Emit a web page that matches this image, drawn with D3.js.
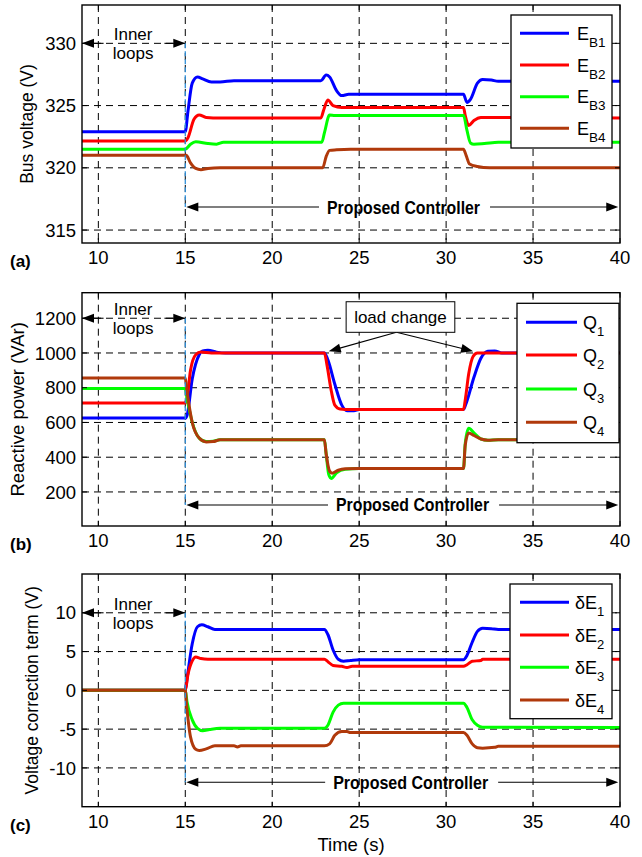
<!DOCTYPE html>
<html><head><meta charset="utf-8">
<script src="https://cdn.jsdelivr.net/npm/d3@7"></script>
<style>body{margin:0;background:#fff}svg{display:block}text{font-family:"Liberation Sans",Arial,Helvetica,sans-serif;fill:#000}</style>
</head><body><svg id="chart" width="642" height="857"></svg>
<script>
// ---------- DATA ----------
const timeTicks = [10, 15, 20, 25, 30, 35, 40];
const busTicks = [315, 320, 325, 330];
const qTicks = [200, 400, 600, 800, 1000, 1200];
const dETicks = [-10, -5, 0, 5, 10];
const seriesColors = ["#0000ff", "#ff0000", "#00ff00", "#b0390b"];
const busNames = ["B1", "B2", "B3", "B4"];
const qNames = ["1", "2", "3", "4"];
const dENames = ["1", "2", "3", "4"];

// Panel (a): bus voltages [time s, V]
const EB1 = [[9.06,322.9],[15.0,322.9],[15.15,324.5],[15.4,326.8],[15.7,327.3],[16.0,327.15],[16.5,326.9],[17.0,326.9],[17.8,327.0],[22.8,327.0],[23.1,327.45],[23.3,327.3],[23.7,326.2],[24.0,325.8],[24.4,325.9],[31.0,325.9],[31.2,325.25],[31.4,325.5],[31.8,326.8],[32.1,327.1],[32.6,327.05],[33.0,326.95],[40,326.95]];
const EB2 = [[9.06,322.15],[15.0,322.15],[15.15,322.4],[15.5,323.9],[15.8,324.25],[16.2,324.05],[17.0,324.0],[22.8,324.0],[22.95,324.6],[23.2,325.45],[23.5,325.0],[24.0,324.85],[31.0,324.85],[31.1,324.2],[31.3,323.4],[31.6,323.8],[32.0,324.05],[40,324.0]];
const EB3 = [[9.06,321.5],[15.0,321.5],[15.3,321.9],[15.6,322.1],[16.3,321.95],[16.8,321.9],[17.2,322.05],[22.85,322.05],[23.0,322.8],[23.3,324.25],[23.6,324.2],[31.0,324.2],[31.2,323.0],[31.4,322.0],[31.6,321.9],[32.2,321.95],[33.0,322.05],[40,322.05]];
const EB4 = [[9.06,321.0],[15.05,321.0],[15.3,320.4],[15.6,319.95],[15.9,319.85],[16.3,319.95],[17.0,320.0],[22.9,320.0],[23.1,320.9],[23.3,321.4],[23.7,321.45],[24.5,321.5],[31.0,321.5],[31.15,321.0],[31.35,320.3],[31.8,320.1],[32.5,320.0],[40,320.0]];

// Panel (b): reactive power [time s, VAr]
const Q1 = [[9.06,625],[15.0,625],[15.1,640],[15.4,850],[15.8,990],[16.0,1012],[16.3,1015],[16.8,1005],[17.3,1000],[23.0,1000],[23.2,960],[23.6,820],[24.0,700],[24.3,668],[24.7,668],[25.0,675],[31.0,675],[31.15,710],[31.6,860],[32.0,970],[32.4,1010],[32.8,1012],[33.2,1000],[40,1000]];
const Q2 = [[9.06,712],[15.0,712],[15.1,740],[15.3,900],[15.6,990],[15.9,1005],[16.5,1000],[23.0,1000],[23.15,930],[23.4,780],[23.6,700],[23.9,678],[24.5,675],[31.0,675],[31.1,730],[31.3,880],[31.55,980],[31.8,1000],[40,1000]];
const Q3 = [[9.06,796],[15.0,796],[15.1,740],[15.4,600],[15.8,510],[16.2,490],[16.6,492],[17.0,500],[23.0,500],[23.1,420],[23.25,300],[23.4,278],[23.7,310],[24.2,330],[25.0,335],[31.0,335],[31.1,480],[31.3,567],[31.6,540],[32.0,505],[32.4,498],[33.0,500],[40,500]];
const Q4 = [[9.06,856],[15.0,856],[15.1,780],[15.4,600],[15.8,510],[16.2,488],[16.6,490],[17.0,500],[23.0,500],[23.1,420],[23.3,320],[23.45,308],[23.8,325],[24.2,333],[25.0,335],[31.0,335],[31.1,470],[31.3,540],[31.6,525],[32.0,505],[32.4,498],[33.0,500],[40,500]];

// Panel (c): voltage correction terms [time s, V]
const dE1 = [[9.06,0],[15.0,0],[15.1,1.5],[15.4,6.0],[15.7,8.2],[15.95,8.45],[16.3,8.2],[16.7,7.85],[23.0,7.85],[23.2,7.2],[23.5,5.2],[23.8,4.0],[24.1,3.75],[24.5,3.85],[25.0,3.95],[31.0,3.95],[31.2,4.5],[31.5,6.2],[31.8,7.6],[32.1,8.0],[32.6,7.95],[33.0,7.85],[40,7.85]];
const dE2 = [[9.06,0],[15.0,0],[15.15,2.0],[15.4,3.8],[15.6,4.3],[15.9,4.1],[16.3,4.0],[23.0,4.0],[23.2,3.7],[23.5,3.2],[24.0,3.1],[24.3,2.95],[24.6,3.1],[31.0,3.1],[31.2,3.3],[31.5,3.75],[32.0,3.85],[32.1,4.0],[40,4.0]];
const dE3 = [[9.06,0],[15.0,0],[15.1,-1.5],[15.4,-3.8],[15.7,-4.9],[16.0,-5.2],[16.4,-5.05],[17.0,-4.9],[23.0,-4.9],[23.2,-4.5],[23.5,-2.8],[23.8,-1.9],[24.1,-1.65],[31.0,-1.65],[31.2,-2.2],[31.5,-3.8],[31.8,-4.5],[32.1,-4.75],[33.0,-4.75],[40,-4.8]];
const dE4 = [[9.06,0],[15.0,0],[15.08,-2.0],[15.3,-6.0],[15.6,-7.6],[15.8,-7.75],[16.2,-7.55],[16.7,-7.15],[17.8,-7.15],[18.0,-7.3],[18.2,-7.15],[23.0,-7.15],[23.3,-6.9],[23.6,-5.8],[24.0,-5.3],[24.3,-5.3],[24.5,-5.45],[31.0,-5.45],[31.2,-5.8],[31.5,-6.9],[31.8,-7.4],[32.1,-7.45],[32.8,-7.35],[33.0,-7.2],[40,-7.2]];

// ---------- LAYOUT ----------
const svg = d3.select("#chart");
const plotLeft = 82, plotRight = 620;
const x = d3.scaleLinear().domain([9.06, 40]).range([plotLeft, plotRight]);

const panels = [
  { top: 5, bottom: 243, domain: [313.96, 333.08], ticks: busTicks, title: "Bus voltage (V)", titleX: 27, titleSize: 17.5,
    label: "(a)", series: [EB1, EB2, EB3, EB4], mainSym: "E", subs: busNames, subSize: 13.5,
    legend: { x: 511, y: 15, w: 101, h: 133, rows: [33.3, 65, 96.7, 128.3], l0: 520, l1: 569, tx: 577 },
    innerY: 330, pcY: 316.85, pcCenter: 27.55, pcW: 153 },
  { top: 292.7, bottom: 526, domain: [4, 1347], ticks: qTicks, title: "Reactive power (VAr)", titleX: 17, titleSize: 18.5,
    label: "(b)", series: [Q1, Q2, Q3, Q4], mainSym: "Q", subs: qNames, subSize: 13,
    legend: { x: 517, y: 303.3, w: 102, h: 139.4, rows: [322.3, 355, 389, 422.3], l0: 526, l1: 577, tx: 583 },
    innerY: 1200, pcY: 125, pcCenter: 28.07, pcW: 153 },
  { top: 574, bottom: 806.7, domain: [-15, 15], ticks: dETicks, title: "Voltage correction term (V)", titleX: 32, titleSize: 17.5,
    label: "(c)", series: [dE1, dE2, dE3, dE4], mainSym: "\u03B4E", subs: dENames, subSize: 13,
    legend: { x: 510, y: 584, w: 102, h: 134.7, rows: [602.3, 635, 667.3, 700], l0: 520, l1: 569, tx: 575 },
    innerY: 10, pcY: -11.85, pcCenter: 27.96, pcW: 155 }
];

function arrowHead(g, tx, ty, dx, dy, len = 12, hw = 4.5) {
  const px = -dy, py = dx;
  const bx = tx - dx * len, by = ty - dy * len;
  g.append("path")
    .attr("d", `M${tx},${ty}L${bx + px * hw},${by + py * hw}L${bx - px * hw},${by - py * hw}Z`)
    .attr("fill", "#000");
}
function arrow(g, x0, y0, x1, y1) {
  const L = Math.hypot(x1 - x0, y1 - y0), dx = (x1 - x0) / L, dy = (y1 - y0) / L;
  g.append("line").attr("x1", x0).attr("y1", y0).attr("x2", x1 - dx * 6).attr("y2", y1 - dy * 6)
    .attr("stroke", "#000").attr("stroke-width", 1.1);
  arrowHead(g, x1, y1, dx, dy);
}

panels.forEach((p, pi) => {
  const y = d3.scaleLinear().domain(p.domain).range([p.bottom, p.top]);
  const g = svg.append("g");
  const w = plotRight - plotLeft, h = p.bottom - p.top;

  // grid
  g.append("g").selectAll("line").data(timeTicks.filter(t => t < 40)).join("line")
    .attr("x1", d => x(d)).attr("x2", d => x(d)).attr("y1", p.top).attr("y2", p.bottom)
    .attr("stroke", "#000").attr("stroke-width", 1).attr("stroke-dasharray", "7,5");
  g.append("g").selectAll("line").data(p.ticks).join("line")
    .attr("x1", plotLeft).attr("x2", plotRight).attr("y1", d => y(d)).attr("y2", d => y(d))
    .attr("stroke", "#000").attr("stroke-width", 1).attr("stroke-dasharray", "7,5");

  // data lines
  const line = d3.line().x(d => x(d[0])).y(d => y(d[1])).curve(d3.curveMonotoneX);
  p.series.forEach((s, i) => {
    g.append("path").datum(s).attr("d", line).attr("fill", "none")
      .attr("stroke", seriesColors[i]).attr("stroke-width", 3).attr("stroke-linejoin", "round");
  });

  // blue dashed marker at t=15
  g.append("line").attr("x1", x(15)).attr("x2", x(15)).attr("y1", y(p.innerY)).attr("y2", y(p.pcY))
    .attr("stroke", "#2f8fd8").attr("stroke-width", 1.3).attr("stroke-dasharray", "5,3");

  // Inner loops annotation
  const iy = y(p.innerY);
  arrow(g, x(10.3), iy, plotLeft, iy);
  arrow(g, x(13.8), iy, x(15), iy);
  g.append("text").attr("x", x(12)).attr("y", iy - 3).attr("text-anchor", "middle").attr("font-size", 17).text("Inner");
  g.append("text").attr("x", x(12)).attr("y", iy + 16).attr("text-anchor", "middle").attr("font-size", 17).text("loops");

  // Proposed Controller annotation
  const py = y(p.pcY), cx = x(p.pcCenter);
  g.append("text").attr("x", cx).attr("y", py + 6.5).attr("text-anchor", "middle")
    .attr("font-size", 19).attr("font-weight", "bold")
    .attr("textLength", p.pcW).attr("lengthAdjust", "spacingAndGlyphs").text("Proposed Controller");
  arrow(g, cx - p.pcW / 2 - 8, py, x(15) + 1, py);
  arrow(g, cx + p.pcW / 2 + 10, py, x(39.9), py);

  // frame + inward ticks
  const tk = g.append("g").attr("stroke", "#000").attr("stroke-width", 1);
  timeTicks.forEach(t => {
    tk.append("line").attr("x1", x(t)).attr("x2", x(t)).attr("y1", p.bottom).attr("y2", p.bottom - 5);
    tk.append("line").attr("x1", x(t)).attr("x2", x(t)).attr("y1", p.top).attr("y2", p.top + 5);
  });
  p.ticks.forEach(v => {
    tk.append("line").attr("x1", plotLeft).attr("x2", plotLeft + 5).attr("y1", y(v)).attr("y2", y(v));
    tk.append("line").attr("x1", plotRight).attr("x2", plotRight - 5).attr("y1", y(v)).attr("y2", y(v));
  });
  g.append("rect").attr("x", plotLeft).attr("y", p.top).attr("width", w).attr("height", h)
    .attr("fill", "none").attr("stroke", "#000").attr("stroke-width", 1.4);

  // tick labels
  g.append("g").selectAll("text").data(timeTicks).join("text")
    .attr("x", d => x(d)).attr("y", p.bottom + 21).attr("text-anchor", "middle").attr("font-size", 18.5).text(d => d);
  g.append("g").selectAll("text").data(p.ticks).join("text")
    .attr("x", plotLeft - 6).attr("y", d => y(d)).attr("dy", "0.36em").attr("text-anchor", "end").attr("font-size", 18.5).text(d => d);

  // y title
  g.append("text").attr("transform", `translate(${p.titleX},${(p.top + p.bottom) / 2}) rotate(-90)`)
    .attr("text-anchor", "middle").attr("dy", "0.36em").attr("font-size", p.titleSize).text(p.title);

  // panel label
  g.append("text").attr("x", 10).attr("y", p.bottom + 24).attr("font-size", 17).attr("font-weight", "bold").text(p.label);

  // legend
  const L = p.legend;
  const lg = g.append("g");
  lg.append("rect").attr("x", L.x).attr("y", L.y).attr("width", L.w).attr("height", L.h)
    .attr("fill", "#fff").attr("stroke", "#000").attr("stroke-width", 1.3);
  p.subs.forEach((s, i) => {
    lg.append("line").attr("x1", L.l0).attr("x2", L.l1).attr("y1", L.rows[i]).attr("y2", L.rows[i])
      .attr("stroke", seriesColors[i]).attr("stroke-width", 3);
    const t = lg.append("text").attr("x", L.tx).attr("y", L.rows[i] + 6.5).attr("font-size", 18);
    t.append("tspan").text(p.mainSym);
    t.append("tspan").attr("dy", 7).attr("font-size", p.subSize).text(s);
  });

  // load change annotation (panel b only)
  if (pi === 1) {
    const bx0 = x(24.25), bx1 = x(30.5), by0 = y(1295), by1 = y(1119);
    arrow(g, (bx0 + bx1) / 2 - 4, by1, x(23.25), y(1010));
    arrow(g, (bx0 + bx1) / 2 - 4, by1, x(31.55), y(1010));
    g.append("rect").attr("x", bx0).attr("y", by0).attr("width", bx1 - bx0).attr("height", by1 - by0)
      .attr("fill", "#fff").attr("stroke", "#000").attr("stroke-width", 1);
    g.append("text").attr("x", (bx0 + bx1) / 2).attr("y", (by0 + by1) / 2).attr("dy", "0.36em")
      .attr("text-anchor", "middle").attr("font-size", 17).text("load change");
  }
});

// x axis title
svg.append("text").attr("x", 351).attr("y", 851).attr("text-anchor", "middle").attr("font-size", 18.5).text("Time (s)");
</script></body></html>
